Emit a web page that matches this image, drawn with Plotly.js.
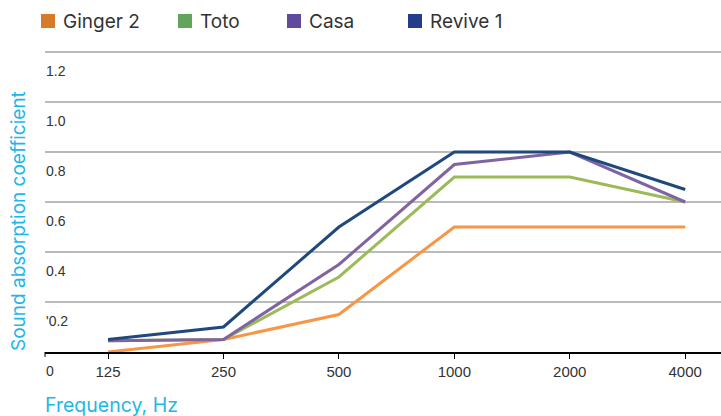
<!DOCTYPE html>
<html>
<head>
<meta charset="utf-8">
<script src="https://cdn.plot.ly/plotly-3.0.1.min.js"></script>
<style>html,body{margin:0;padding:0;background:#fff;}#chart{width:721px;height:416px;}</style>
</head>
<body>
<div id="chart"></div>
<script>
// ---- data ----
const frequencies = ["125", "250", "500", "1000", "2000", "4000"];
const seriesNames = ["Ginger 2", "Toto", "Casa", "Revive 1"];
const ginger2 = [0.0, 0.05, 0.15, 0.5, 0.5, 0.5];
const toto    = [0.045, 0.05, 0.3, 0.7, 0.7, 0.6];
const casa    = [0.045, 0.05, 0.35, 0.75, 0.8, 0.6];
const revive1 = [0.05, 0.1, 0.5, 0.8, 0.8, 0.65];
const yTickValues = [0, 0.2, 0.4, 0.6, 0.8, 1.0, 1.2];
const yTickLabels = ["0", "'0.2", "0.4", "0.6", "0.8", "1.0", "1.2"];
const lineColors = ["#F79646", "#9BBB59", "#8064A2", "#1F497D"];
const legendColors = ["#D97A2A", "#62A55A", "#5F4A9C", "#233C8C"];
const yTitle = "Sound absorption coefficient";
const xTitle = "Frequency, Hz";

// ---- layout helpers ----
const W = 721, H = 416;
const M = {l: 45, r: 0, t: 42, b: 64};
const PW = W - M.l - M.r, PH = H - M.t - M.b;
const YMAX = PH / 250;
const px = x => (x - M.l) / PW;
const py = y => (H - M.b - y) / PH;

const values = [ginger2, toto, casa, revive1];
const traces = values.map((v, i) => ({
  type: "scatter", mode: "lines", name: seriesNames[i],
  x: frequencies, y: v,
  line: {color: lineColors[i], width: 3},
  showlegend: false, hoverinfo: "skip"
}));

const yTickFont = {family: "Liberation Sans, Arial, sans-serif", size: 14, color: "#333333"};
const xTickFont = {family: "Liberation Sans, Arial, sans-serif", size: 15, color: "#333333"};
const annotations = [];
const shapes = [];

// y tick labels (placed inside, below their gridline as in the reference)
yTickValues.forEach((v, i) => {
  annotations.push({xref: "paper", yref: "y", x: 0, y: v, xanchor: "left", yanchor: "middle",
    xshift: -1, yshift: -19, text: yTickLabels[i], showarrow: false, font: yTickFont});
});

// legend
const legendX = [41, 178, 287, 408];
seriesNames.forEach((n, i) => {
  shapes.push({type: "rect", xref: "paper", yref: "paper",
    x0: px(legendX[i]), x1: px(legendX[i] + 14), y0: py(28), y1: py(14),
    fillcolor: legendColors[i], line: {width: 0}});
  annotations.push({xref: "paper", yref: "paper", x: px(legendX[i] + 20), y: py(21),
    xanchor: "left", yanchor: "middle", text: n, showarrow: false,
    font: {family: "Inter, Liberation Sans, sans-serif", size: 19, color: "#333333"}});
});

// axis titles
const titleFont = {family: "Inter, Liberation Sans, sans-serif", size: 19, color: "#1FB7E8"};
annotations.push({xref: "paper", yref: "paper", x: px(18), y: py(221), textangle: -90,
  xanchor: "center", yanchor: "middle", text: yTitle, showarrow: false, font: titleFont});
annotations.push({xref: "paper", yref: "paper", x: px(43), y: py(405),
  xanchor: "left", yanchor: "middle", text: xTitle, showarrow: false,
  font: Object.assign({}, titleFont, {size: 19.5})});

// left-edge tick on x axis
shapes.push({type: "line", xref: "paper", yref: "paper", x0: 0, x1: 0, y0: 0, y1: -5 / PH,
  line: {color: "#000000", width: 1}});

const layout = {
  width: W, height: H,
  margin: M,
  paper_bgcolor: "#ffffff", plot_bgcolor: "#ffffff",
  showlegend: false,
  xaxis: {
    type: "category", range: [-0.546, 5.31],
    showgrid: false, zeroline: false,
    showline: true, linecolor: "#000000", linewidth: 1.5,
    ticks: "outside", ticklen: 5, tickcolor: "#000000", tickwidth: 1,
    tickfont: xTickFont, fixedrange: true
  },
  yaxis: {
    range: [0, YMAX], tickvals: yTickValues, showticklabels: false,
    showgrid: true, gridcolor: "#BABABA", gridwidth: 1.3,
    zeroline: false, showline: false, ticks: "", fixedrange: true
  },
  annotations: annotations,
  shapes: shapes
};

Plotly.newPlot("chart", traces, layout, {displayModeBar: false, staticPlot: true});
</script>
</body>
</html>
